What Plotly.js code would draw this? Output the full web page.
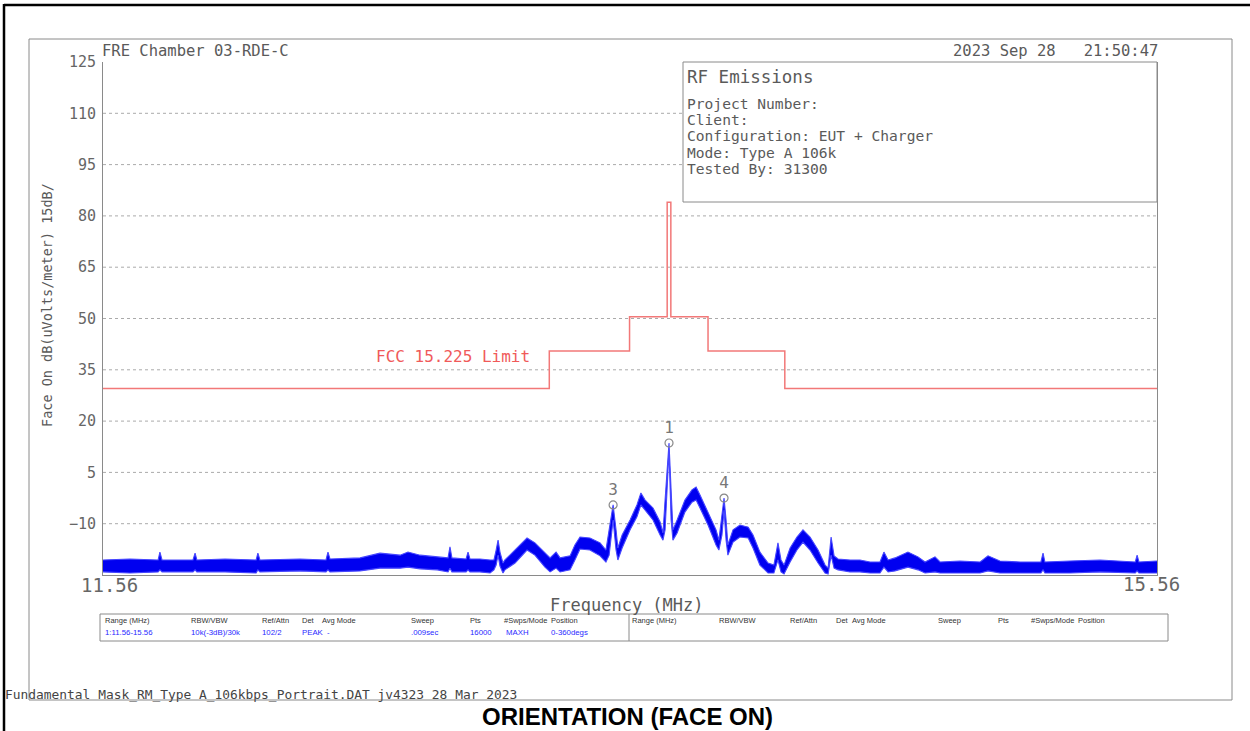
<!DOCTYPE html>
<html><head><meta charset="utf-8">
<script src="https://cdn.plot.ly/plotly-3.0.1.min.js"></script>
<style>html,body{margin:0;padding:0;background:#fff;}#chart{width:1250px;height:731px;}</style>
</head><body><div id="chart"></div>
<script>
// ---------- DATA ----------
// Spectrum envelope: frequency (MHz), upper and lower edge of the trace (dBuV/m)
const freqMHz = [11.560,11.648,11.741,11.747,11.754,11.857,11.864,11.870,11.965,12.070,12.076,12.083,12.220,12.310,12.317,12.324,12.429,12.499,12.570,12.598,12.641,12.702,12.741,12.748,12.755,12.806,12.813,12.820,12.856,12.893,12.907,12.915,12.922,12.929,12.940,12.947,12.984,13.028,13.057,13.094,13.113,13.135,13.150,13.187,13.205,13.224,13.261,13.299,13.321,13.333,13.348,13.359,13.366,13.382,13.412,13.438,13.453,13.469,13.499,13.526,13.537,13.545,13.560,13.568,13.575,13.591,13.621,13.648,13.664,13.679,13.710,13.741,13.752,13.764,13.772,13.780,13.787,13.807,13.834,13.866,13.885,13.912,13.944,13.967,13.983,13.995,14.007,14.031,14.058,14.082,14.110,14.142,14.170,14.182,14.194,14.206,14.222,14.270,14.310,14.351,14.391,14.407,14.424,14.452,14.505,14.546,14.575,14.616,14.637,14.719,14.803,14.836,14.886,14.971,15.059,15.068,15.076,15.183,15.312,15.465,15.473,15.481,15.560];
const upperDB = [-20.6,-20.3,-20.6,-18.3,-20.6,-20.6,-18.6,-20.6,-20.3,-20.6,-18.6,-20.6,-20.3,-20.6,-18.3,-20.3,-20.0,-18.6,-19.2,-18.3,-19.2,-19.7,-20.0,-16.8,-20.0,-20.3,-18.3,-20.3,-20.3,-20.6,-20.6,-17.7,-14.8,-18.3,-21.5,-20.6,-17.7,-14.2,-15.6,-18.6,-20.0,-18.3,-20.0,-19.4,-16.2,-13.9,-14.2,-15.6,-17.7,-11.8,-4.5,-11.8,-17.1,-13.3,-8.9,-4.5,-1.0,-3.1,-5.4,-9.5,-12.7,-3.1,13.6,-0.1,-11.8,-8.9,-3.1,-0.1,0.7,-1.6,-6.6,-11.8,-14.8,-7.5,-2.5,-8.9,-16.2,-11.8,-10.4,-11.0,-13.3,-18.3,-21.5,-22.1,-15.6,-20.6,-22.1,-17.1,-13.9,-11.8,-13.9,-17.7,-22.1,-23.0,-13.9,-19.4,-20.3,-20.6,-20.6,-21.2,-21.2,-18.3,-20.6,-20.0,-18.3,-19.7,-21.2,-19.7,-21.2,-20.9,-21.2,-19.4,-20.9,-21.2,-21.2,-18.6,-21.2,-20.9,-20.6,-21.2,-19.2,-21.2,-20.9];
const lowerDB = [-24.1,-24.4,-24.1,-23.5,-24.1,-24.1,-23.5,-24.1,-24.1,-24.4,-23.5,-24.1,-23.8,-24.1,-23.5,-24.1,-23.8,-23.0,-23.0,-22.7,-23.2,-23.5,-24.1,-23.0,-24.1,-24.1,-23.5,-24.1,-24.1,-24.4,-23.5,-22.1,-19.2,-22.4,-24.4,-23.5,-21.5,-17.7,-19.2,-22.7,-24.1,-23.0,-24.1,-23.5,-20.6,-17.4,-17.7,-19.4,-21.2,-19.2,-8.9,-17.7,-20.6,-17.1,-11.8,-8.0,-4.5,-6.0,-8.9,-13.3,-14.8,-11.8,11.5,-8.9,-14.8,-12.7,-6.6,-3.7,-3.1,-5.4,-10.4,-16.2,-17.7,-13.3,-6.0,-14.8,-19.2,-15.4,-13.9,-14.2,-17.1,-22.1,-24.4,-24.4,-20.6,-24.1,-24.7,-21.2,-17.7,-15.4,-17.7,-21.5,-24.4,-24.7,-19.2,-23.0,-23.5,-24.1,-24.1,-24.4,-24.4,-22.7,-24.1,-23.8,-22.7,-23.5,-24.4,-24.1,-24.4,-24.4,-24.4,-23.8,-24.4,-24.4,-24.4,-23.5,-24.4,-24.4,-24.1,-24.4,-23.8,-24.4,-24.4];

// FCC 15.225 limit mask
const limitFreq = [11.56,13.11,13.11,13.41,13.41,13.553,13.553,13.567,13.567,13.71,13.71,14.01,14.01,15.56];
const limitDB   = [29.5,29.5,40.5,40.5,50.5,50.5,84,84,50.5,50.5,40.5,40.5,29.5,29.5];

// Markers
const markerLabels = ['1','3','4'];
const markerFreq   = [13.560,13.348,13.772];
const markerDB     = [13.6,-4.5,-2.5];

// Axis ticks
const yTicks = [-10,5,20,35,50,65,80,95,110,125];
const xEndLabels = ['11.56','15.56'];

// Header / info texts
const headerLeft = 'FRE Chamber 03-RDE-C';
const headerRight = '2023 Sep 28\u00a0\u00a0\u00a021:50:47';
const infoTitle = 'RF Emissions';
const infoLines = ['Project Number:','Client:','Configuration: EUT + Charger','Mode: Type A 106k','Tested By: 31300'];
const tableHeaders = ['Range (MHz)','RBW/VBW','Ref/Attn','Det','Avg Mode','Sweep','Pts','#Swps/Mode','Position'];
const tableValues  = ['1:11.56-15.56','10k(-3dB)/30k','102/2','PEAK','-','.009sec','16000','MAXH','0-360degs'];
const footerFile = 'Fundamental Mask_RM_Type A_106kbps_Portrait.DAT jv4323 28 Mar 2023';
const footerTitle = 'ORIENTATION (FACE ON)';

// ---------- LAYOUT HELPERS (pixel -> paper) ----------
const L=103, R=1157, T=62, B=575;
const px = x => (x-L)/(R-L);
const py = y => (B-y)/(B-T);
const MONO = 'DejaVu Sans Mono';
const SMALL = 'Liberation Sans';
const GREY = '#5a5a5a';

function ann(text,x,y,size,opts={}){
  return {text:text,x:px(x),y:py(y),xref:'paper',yref:'paper',showarrow:false,
    xanchor:opts.xa||'left',yanchor:'middle',
    font:{family:opts.family||MONO,size:size,color:opts.color||GREY, weight:opts.weight||'normal'},
    textangle:opts.angle||0, borderpad:0};
}

const annotations = [];
annotations.push(ann(headerLeft,101,51,15.5));
annotations.push(ann(headerRight,1159,51,15.5,{xa:'right'}));
annotations.push(ann(infoTitle,686,77,17.5));
infoLines.forEach((t,i)=>annotations.push(ann(t,686,103+i*16.4,14.6)));
annotations.push(ann('FCC 15.225 Limit',453,356,16,{xa:'center',color:'#f05a5a'}));
annotations.push(ann(xEndLabels[0],109,585,19,{xa:'center',color:'#666'}));
annotations.push(ann(xEndLabels[1],1151,584,19,{xa:'center',color:'#666'}));
annotations.push(ann('Frequency (MHz)',627,605,17,{xa:'center'}));
annotations.push(ann('Face On dB(uVolts/meter) 15dB/',47,305,13.5,{xa:'center',angle:-90}));
const colL = [104,190,261,301,321,410,469,503,550];
const colR = [631,718,789,835,851,937,997,1030,1077];
const valL = [104,190,261,301,326,410,469,505,550];
tableHeaders.forEach((t,i)=>{
  annotations.push(ann(t,colL[i],620.5,7.5,{family:SMALL,color:'#333'}));
  annotations.push(ann(t,colR[i],620.5,7.5,{family:SMALL,color:'#333'}));
  annotations.push(ann(tableValues[i],valL[i],632,7.8,{family:SMALL,color:'#2a2aff'}));
});
annotations.push(ann(footerFile,4,694,12.9,{color:'#444'}));
annotations.push(ann(footerTitle,627,716,24,{xa:'center',family:'Liberation Sans',color:'#000',weight:'bold'}));

const shapes = [];
// grid lines
yTicks.filter(v=>v<125).forEach(v=>shapes.push({type:'line',xref:'paper',yref:'y',x0:0,x1:1,y0:v,y1:v,
  line:{color:'#aaaaaa',width:1,dash:'dot'},layer:'below'}));
// outer black border
shapes.push({type:'line',xref:'paper',yref:'paper',x0:px(4),x1:px(1250),y0:py(5),y1:py(5),line:{color:'#000',width:2.5}});
shapes.push({type:'line',xref:'paper',yref:'paper',x0:px(4),x1:px(4),y0:py(4),y1:py(731),line:{color:'#000',width:2.5}});
// inner grey frame
shapes.push({type:'rect',xref:'paper',yref:'paper',x0:px(29),x1:px(1232),y0:py(39),y1:py(700),line:{color:'#8a8a8a',width:1}});
// info box
shapes.push({type:'rect',xref:'paper',yref:'paper',x0:px(683),x1:px(1157),y0:py(62),y1:py(202),line:{color:'#8a8a8a',width:1},fillcolor:'#fff',layer:'above'});
// table
shapes.push({type:'rect',xref:'paper',yref:'paper',x0:px(100),x1:px(1168),y0:py(614),y1:py(641),line:{color:'#8a8a8a',width:1}});
shapes.push({type:'line',xref:'paper',yref:'paper',x0:px(629),x1:px(629),y0:py(614),y1:py(641),line:{color:'#8a8a8a',width:1}});

const traces = [
  {x:limitFreq,y:limitDB,type:'scatter',mode:'lines',line:{color:'#f27878',width:1.5},hoverinfo:'skip'},
  {x:freqMHz,y:lowerDB,type:'scatter',mode:'lines',line:{color:'#4646ff',width:1.1},hoverinfo:'skip'},
  {x:freqMHz,y:upperDB,type:'scatter',mode:'lines',fill:'tonexty',fillcolor:'#0000f0',line:{color:'#4646ff',width:1.1},hoverinfo:'skip'},
  {x:markerFreq,y:markerDB,type:'scatter',mode:'markers+text',text:markerLabels,textposition:'top center',
   textfont:{family:MONO,size:16,color:'#777'},marker:{symbol:'circle-open',size:8,color:'#888',line:{width:1.2,color:'#888'}},hoverinfo:'skip'}
];

const layout = {
  width:1250,height:731,paper_bgcolor:'#fff',plot_bgcolor:'#fff',showlegend:false,
  margin:{l:L,r:1250-R,t:T,b:731-B,pad:0},
  xaxis:{type:'log',range:[Math.log10(11.56),Math.log10(15.56)],showgrid:false,zeroline:false,showticklabels:false,ticks:'',
    showline:true,linecolor:'#8a8a8a',linewidth:1,mirror:false,fixedrange:true},
  yaxis:{range:[-25,125],tickvals:yTicks,showgrid:false,zeroline:false,ticks:'',showline:true,linecolor:'#8a8a8a',linewidth:1,mirror:true,
    tickfont:{family:MONO,size:15,color:'#666'},ticklabelstandoff:3,fixedrange:true},
  shapes:shapes,annotations:annotations
};
Plotly.newPlot('chart',traces,layout,{staticPlot:true});
</script></body></html>
